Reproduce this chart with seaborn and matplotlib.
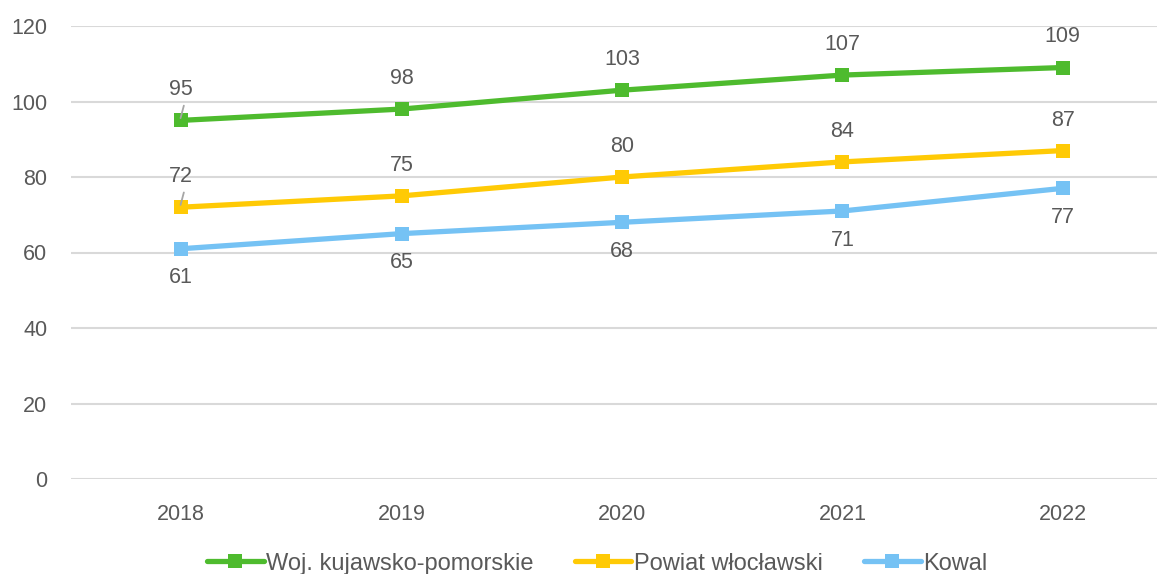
import numpy as np
import pandas as pd
import matplotlib
matplotlib.use('Agg')
import matplotlib.pyplot as plt
import seaborn as sns

# Data
years = ['2018', '2019', '2020', '2021', '2022']
series_names = ['Woj. kujawsko-pomorskie', 'Powiat włocławski', 'Kowal']
woj = [95, 98, 103, 107, 109]
powiat = [72, 75, 80, 84, 87]
kowal = [61, 65, 68, 71, 77]
colors = ['#4EBB2E', '#FFCA05', '#75C2F4']

df = pd.DataFrame({
    'idx': list(range(len(years))) * 3,
    'value': woj + powiat + kowal,
    'series': [s for s in series_names for _ in years],
})

sns.set_style('white')
plt.rcParams['font.family'] = ['Liberation Sans', 'DejaVu Sans']
text_color = '#595959'

fig = plt.figure(figsize=(11.57, 5.74), dpi=100)
ax = fig.add_axes([71 / 1157, 1 - 479 / 574, (1173 - 71) / 1157, (479 - 26) / 574])

sns.lineplot(data=df, x='idx', y='value', hue='series', hue_order=series_names,
             palette=colors, marker='s', markersize=10, markeredgewidth=0,
             linewidth=3.8, ax=ax, legend=False)

ax.set_xlim(-0.5, 4.5)
ax.set_ylim(0, 120)
ax.set_yticks(range(0, 121, 20))
ax.set_xticks(range(len(years)))
ax.set_xticklabels(years)
ax.grid(axis='y', color='#D9D9D9', linewidth=1.5)
ax.set_axisbelow(True)
for sp in ax.spines.values():
    sp.set_visible(False)
ax.tick_params(axis='both', length=0, labelsize=15.5, colors=text_color)
ax.tick_params(axis='y', pad=17)
ax.tick_params(axis='x', pad=18)
ax.set_xlabel('')
ax.set_ylabel('')

# data labels
for vals, dy in [(woj, 22), (powiat, 22), (kowal, -21)]:
    for i, v in enumerate(vals):
        ax.annotate(str(v), (i, v), xytext=(0, dy), textcoords='offset points',
                    ha='center', va='center', fontsize=15.5, color=text_color)

# leader lines for the first labels
for v in [woj[0], powiat[0]]:
    ax.annotate('', (-0.003, v + 0.6), xytext=(0.012, v + 3.9),
                arrowprops=dict(arrowstyle='-', color='#A6A6A6', lw=1.3,
                                shrinkA=0, shrinkB=0), zorder=5)

handles = [plt.Line2D([], [], color=c, lw=3.8, marker='s', markersize=10,
                      markeredgewidth=0) for c in colors]
fig.legend(handles, series_names, loc='center', bbox_to_anchor=(0.516, 0.018),
           ncol=3, frameon=False, fontsize=17, handlelength=2.4,
           handletextpad=0.1, columnspacing=1.75, labelcolor=text_color)

fig.savefig('out.png', dpi=100)
